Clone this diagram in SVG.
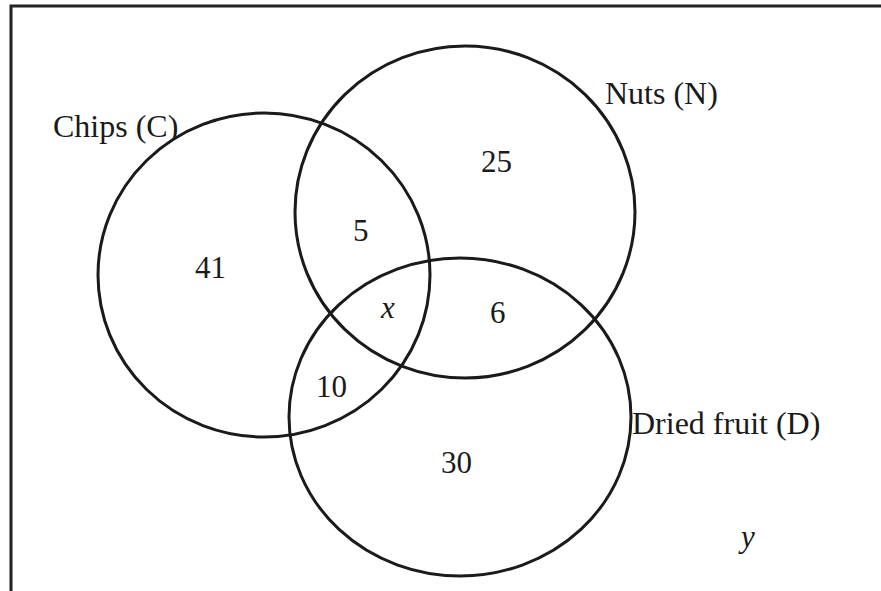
<svg xmlns="http://www.w3.org/2000/svg" width="881" height="591" viewBox="0 0 881 591">
<style>
.c{fill:none;stroke:#1a1a1a;stroke-width:3}
.t{font-family:"Liberation Serif",serif;font-size:32px;fill:#1a1a1a}
.n{font-family:"Liberation Serif",serif;font-size:31px;fill:#1a1a1a}
.i{font-style:italic}
</style>
<rect width="881" height="591" fill="#fff"/>
<g id="frame"><path d="M11,591 V6 H881" fill="none" stroke="#222" stroke-width="3"/></g>
<g id="C"><ellipse class="c" cx="264" cy="275" rx="166" ry="162"/><text class="t" x="53" y="137">Chips (C)</text></g>
<g id="N"><ellipse class="c" cx="465" cy="212" rx="170" ry="166"/><text class="t" x="605" y="104">Nuts (N)</text></g>
<g id="D"><ellipse class="c" cx="460" cy="417" rx="171" ry="159"/><text class="t" x="632" y="434">Dried fruit (D)</text></g>
<g id="regions">
<text class="n" x="195" y="278">41</text>
<text class="n" x="353" y="241">5</text>
<text class="n" x="481" y="172">25</text>
<text class="n i" x="381" y="318">x</text>
<text class="n" x="490" y="323">6</text>
<text class="n" x="316" y="397">10</text>
<text class="n" x="441" y="473">30</text>
<text class="n i" x="741" y="547">y</text>
</g>
<g id="connectors"></g>
</svg>
